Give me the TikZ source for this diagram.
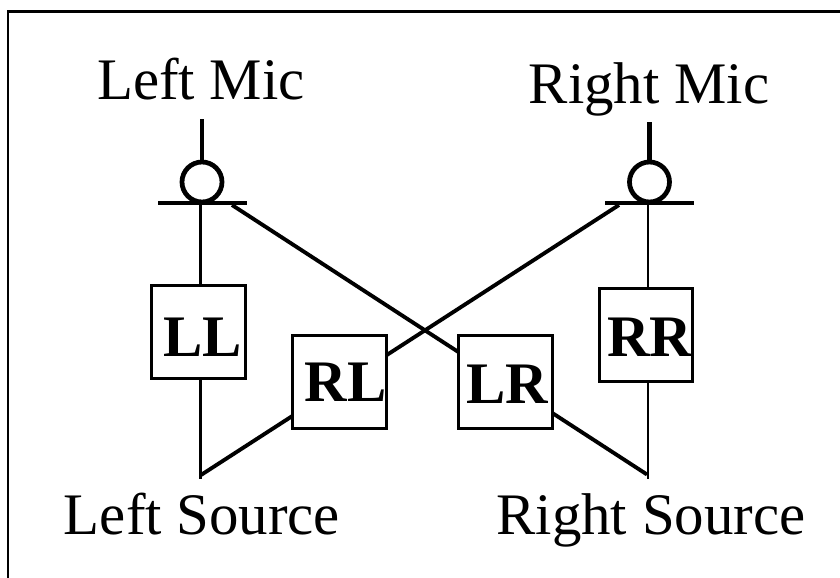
\documentclass[tikz,border=0pt]{standalone}
\usepackage{fontspec}
\setmainfont{Liberation Serif}
\tikzset{
  label text/.style={font=\fontsize{33.5}{40}\selectfont,inner sep=0pt,anchor=base},
  path box/.style={draw,line width=1.5pt,fill=white,font=\fontsize{33.5}{40}\selectfont\bfseries,inner sep=0pt,minimum width=1.87cm,minimum height=1.87cm,text depth=0pt},
  mic line/.style={line width=2.7pt},
  thin wire/.style={line width=1.6pt},
  thick wire/.style={line width=2.2pt}
}
\begin{document}
\begin{tikzpicture}[x=0.02cm,y=-0.02cm]
\useasboundingbox (0,0) rectangle (840,578);
\draw[line width=1.5pt] (8,578) -- (8,11.3) -- (840,11.3);
\node[label text] (leftmic) at (201,99.5) {Left Mic};
\node[label text] (rightmic) at (649,103) {Right Mic};
\node[label text] (leftsrc) at (202,534) {Left Source};
\node[label text] (rightsrc) at (651,534) {Right Source};
\coordinate (lltop) at (200.7,203);
\coordinate (rrtop) at (648,203);
\coordinate (lsrc) at (200.7,479);
\coordinate (rsrc) at (648,479);
\coordinate (ljoin) at (201,475);
\coordinate (rjoin) at (647,474.5);
\coordinate (lxing) at (232,205);
\coordinate (rxing) at (619,205);
\draw[thin wire] (lltop) -- (lsrc);
\draw[thin wire] (rrtop) -- (rsrc);
\draw[thick wire] (lxing) -- (rjoin);
\draw[thick wire] (rxing) -- (ljoin);
\node[path box,text height=1cm] (ll) at (198.5,332) {\hspace*{0.18cm}LL};
\node[path box,text height=0.8cm] (rl) at (339.5,382) {\hspace*{0.25cm}RL};
\node[path box,text height=0.88cm] (lr) at (505.5,382) {\hspace*{0.08cm}LR};
\node[path box,text height=0.88cm] (rr) at (646,335) {\hspace*{0.16cm}RR};
\draw[mic line] (202,119) -- (202,162);
\draw[mic line] (202,182) circle (20);
\draw[mic line] (158,203) -- (247,203);
\draw[mic line] (649.5,122) -- (649.5,162);
\draw[mic line] (649.5,182) circle (20);
\draw[mic line] (605,203) -- (694,203);
\end{tikzpicture}
\end{document}
